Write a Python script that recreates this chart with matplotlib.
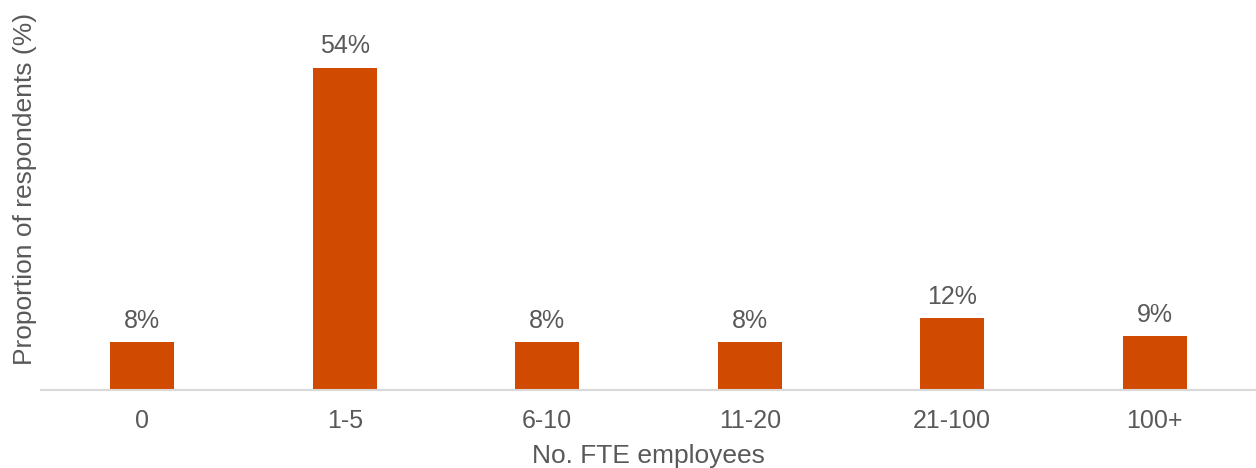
import matplotlib.pyplot as plt

categories = ['0', '1-5', '6-10', '11-20', '21-100', '100+']
shares = [8, 54, 8, 8, 12, 9]

plt.rcParams['font.family'] = ['Liberation Sans', 'DejaVu Sans']
grey = '#595959'

fig = plt.figure(figsize=(12.56, 4.68), dpi=100)
ax = fig.add_axes([41 / 1256, 78 / 468, 1215 / 1256, 357.8 / 468])

x = range(len(categories))
ax.bar(x, shares, width=0.316, color='#D04A02')

# value labels above each bar
for xi, v in zip(x, shares):
    ax.annotate(f'{v}%', (xi, v), xytext=(0, 7), textcoords='offset points',
                ha='center', va='bottom', fontsize=18, color=grey)

ax.set_xlim(-0.5, len(categories) - 0.5)
ax.set_ylim(0, 60)
ax.set_xticks(list(x))
ax.set_xticklabels(categories)
ax.set_yticks([])
ax.tick_params(axis='x', length=0, pad=14, labelsize=18, labelcolor=grey)

for side in ['top', 'right', 'left']:
    ax.spines[side].set_visible(False)
ax.spines['bottom'].set_color('#D9D9D9')
ax.spines['bottom'].set_linewidth(1.5)

ax.set_xlabel('No. FTE employees', fontsize=19, color=grey)
ax.xaxis.set_label_coords(0.5, -54 / 357.8)
ax.set_ylabel('Proportion of respondents (%)', fontsize=19, color=grey)
ax.yaxis.set_label_coords(-4 / 1215, (390 - 189) / 357.8)

fig.savefig('out.png', dpi=100)
